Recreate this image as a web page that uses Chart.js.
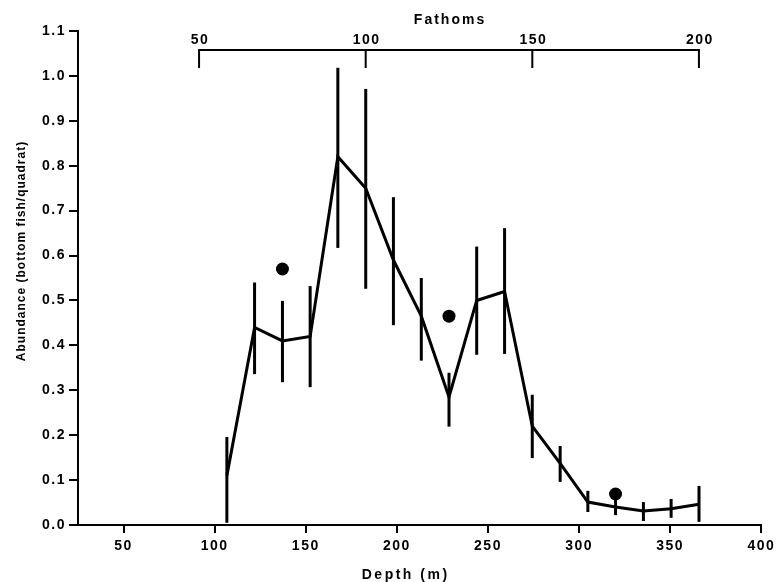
<!DOCTYPE html>
<html><head><meta charset="utf-8">
<script src="https://cdn.jsdelivr.net/npm/chart.js@4/dist/chart.umd.min.js"></script>
<style>html,body{margin:0;padding:0;background:#fff}#wrap{width:778px;height:582px;position:relative}</style>
</head><body><div id="wrap"><canvas id="c" width="778" height="582"></canvas></div>
<script>
// ---- data ----
const depthM = [106.7,121.9,137.2,152.4,167.6,182.9,198.1,213.4,228.6,243.8,259.1,274.3,289.6,304.8,320.0,335.3,350.5,365.8];
const abundance = [0.11,0.44,0.41,0.42,0.82,0.75,0.59,0.465,0.285,0.50,0.52,0.22,0.137,0.051,0.040,0.031,0.036,0.046];
const errLow = [0.005,0.336,0.318,0.307,0.617,0.526,0.445,0.366,0.219,0.379,0.381,0.149,0.096,0.029,0.022,0.009,0.016,0.007];
const errHigh = [0.196,0.540,0.499,0.532,1.018,0.971,0.730,0.550,0.339,0.620,0.661,0.290,0.176,0.076,0.060,0.051,0.058,0.087];
const circledDepthM = [137.2,228.6,320.0];
const circledAbundance = [0.570,0.465,0.069];
const xTicks = [50,100,150,200,250,300,350,400];
const yTicks = [0,0.1,0.2,0.3,0.4,0.5,0.6,0.7,0.8,0.9,1.0,1.1];
const fathomTicks = [50,100,150,200];
const M_PER_FATHOM = 1.8288;
const xTitle = 'Depth (m)';
const yTitle = 'Abundance (bottom fish/quadrat)';
const topTitle = 'Fathoms';

const FONT = '"Liberation Sans", Arial, Helvetica, sans-serif';

const errorBars = {
  id: 'errorBars',
  afterDatasetsDraw(chart) {
    const {ctx, scales:{x, y}} = chart;
    ctx.save();
    ctx.strokeStyle = '#000';
    ctx.lineWidth = 3;
    ctx.lineCap = 'butt';
    depthM.forEach((d, i) => {
      const px = x.getPixelForValue(d);
      ctx.beginPath();
      ctx.moveTo(px, y.getPixelForValue(errLow[i]));
      ctx.lineTo(px, y.getPixelForValue(errHigh[i]));
      ctx.stroke();
    });
    ctx.restore();
  }
};

const letterSp = {
  id: 'letterSp',
  beforeDraw(chart) { chart.ctx.letterSpacing = '1.5px'; }
};

const extras = {
  id: 'extras',
  afterDraw(chart) {
    const {ctx, chartArea, scales:{x}} = chart;
    ctx.save();
    ctx.fillStyle = '#000';
    ctx.strokeStyle = '#000';
    // Fathoms axis
    const yLine = chartArea.top + 19;
    const x0 = x.getPixelForValue(fathomTicks[0] * M_PER_FATHOM);
    const x1 = x.getPixelForValue(fathomTicks[fathomTicks.length - 1] * M_PER_FATHOM);
    ctx.lineWidth = 2;
    ctx.beginPath();
    ctx.moveTo(x0 - 1, yLine); ctx.lineTo(x1 + 1, yLine); ctx.stroke();
    ctx.font = 'bold 14px ' + FONT;
    ctx.letterSpacing = '1.5px';
    ctx.textAlign = 'center';
    ctx.textBaseline = 'alphabetic';
    fathomTicks.forEach(f => {
      const px = x.getPixelForValue(f * M_PER_FATHOM);
      ctx.beginPath(); ctx.moveTo(px, yLine); ctx.lineTo(px, yLine + 18); ctx.stroke();
      ctx.fillText(String(f), px + 1, yLine - 6);
    });
    ctx.font = 'bold 14px ' + FONT;
    ctx.letterSpacing = '2px';
    ctx.fillText(topTitle, (x0 + x1) / 2 + 1, yLine - 26);
    // x title
    ctx.letterSpacing = '2.5px';
    ctx.fillText(xTitle, (chartArea.left + chartArea.right) / 2 - 14, 579);
    // y title
    ctx.translate(25, 251);
    ctx.rotate(-Math.PI / 2);
    ctx.font = 'bold 12px ' + FONT;
    ctx.letterSpacing = '1px';
    ctx.fillText(yTitle, 0, 0);
    ctx.restore();
  }
};

new Chart(document.getElementById('c'), {
  type: 'line',
  data: {
    datasets: [
      { data: depthM.map((d, i) => ({x: d, y: abundance[i]})), borderColor: '#000', borderWidth: 3,
        pointRadius: 0, tension: 0, fill: false, borderJoinStyle: 'miter' },
      { type: 'scatter', data: circledDepthM.map((d, i) => ({x: d, y: circledAbundance[i]})),
        pointRadius: 6.5, pointBackgroundColor: '#000', pointBorderColor: '#000', pointBorderWidth: 0 },
      { type: 'scatter', data: circledDepthM.map((d, i) => ({x: d, y: circledAbundance[i]})),
        pointRadius: 3.4, pointBackgroundColor: '#000', pointBorderColor: '#fff', pointBorderWidth: 1.3 }
    ]
  },
  options: {
    responsive: false, animation: false, devicePixelRatio: 1,
    layout: { padding: { top: 31, right: 16, left: 0, bottom: 0 } },
    plugins: { legend: { display: false }, tooltip: { enabled: false } },
    scales: {
      x: {
        type: 'linear', min: 25, max: 400,
        afterBuildTicks: s => { s.ticks = xTicks.map(v => ({value: v})); },
        afterFit: s => { s.height = 57; },
        border: { color: '#000', width: 2 },
        grid: { drawOnChartArea: false, drawTicks: true, tickLength: 8, color: '#000', lineWidth: 2 },
        ticks: { color: '#000', font: { family: FONT, weight: 'bold', size: 14 }, padding: 5, maxRotation: 0, autoSkip: false }
      },
      y: {
        type: 'linear', min: 0, max: 1.1,
        afterBuildTicks: s => { s.ticks = yTicks.map(v => ({value: v})); },
        afterFit: s => { s.width = 78; },
        border: { color: '#000', width: 2 },
        grid: { drawOnChartArea: false, drawTicks: true, tickLength: 9, color: '#000', lineWidth: 2 },
        ticks: { color: '#000', font: { family: FONT, weight: 'bold', size: 14 }, padding: 3, autoSkip: false,
                 callback: v => Number(v).toFixed(1) }
      }
    }
  },
  plugins: [letterSp, errorBars, extras]
});
</script>
</body></html>
